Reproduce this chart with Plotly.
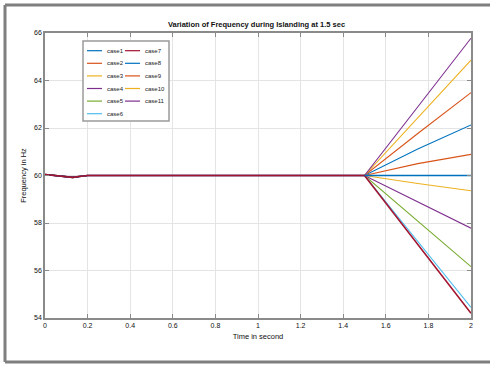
import plotly.graph_objects as go

# Common frequency trace before islanding (s, Hz)
t_pre = [0.0, 0.05, 0.1, 0.13, 0.17, 0.2, 1.5]
f_pre = [60.04, 59.99, 59.95, 59.92, 59.97, 60.0, 60.0]

# Post-islanding samples (s)
t_post = [1.5, 1.75, 2.0]

case_names = ["case1", "case2", "case3", "case4", "case5", "case6",
              "case7", "case8", "case9", "case10", "case11"]
case_post = [
    [60.0, 60.0, 60.0],
    [60.0, 60.5, 60.89],
    [60.0, 59.66, 59.36],
    [60.0, 58.88, 57.78],
    [60.0, 58.07, 56.16],
    [60.0, 57.2, 54.45],
    [60.0, 57.08, 54.2],
    [60.0, 61.12, 62.13],
    [60.0, 61.77, 63.49],
    [60.0, 62.44, 64.86],
    [60.0, 62.9, 65.78],
]

x_ticks = [0, 0.2, 0.4, 0.6, 0.8, 1, 1.2, 1.4, 1.6, 1.8, 2]
x_tick_text = ["0", "0.2", "0.4", "0.6", "0.8", "1", "1.2", "1.4", "1.6", "1.8", "2"]
y_ticks = [54, 56, 58, 60, 62, 64, 66]

colors = ["#0072BD", "#D95319", "#EDB120", "#7E2F8E", "#77AC30", "#4DBEEE",
          "#A2142F", "#0072BD", "#D95319", "#EDB120", "#7E2F8E"]

W, H = 490, 367
L, R, T, B = 45, 471, 33, 318


def px2x(px):
    return (px - L) / (R - L)


def py2y(py):
    return (B - py) / (B - T)


fig = go.Figure()
order = [1, 2, 3, 4, 5, 7, 8, 9, 10, 6, 0]
for i in order:
    fig.add_trace(go.Scatter(
        x=t_pre + t_post[1:], y=f_pre + case_post[i][1:],
        mode="lines", name=case_names[i],
        line=dict(color=colors[i], width=1.6 if i in (0, 6) else 1.1),
        showlegend=False,
    ))
# Pre-islanding segment drawn on top in dark red
fig.add_trace(go.Scatter(
    x=t_pre, y=f_pre, mode="lines", name=case_names[6],
    line=dict(color=colors[6], width=1.6), showlegend=False,
))

shapes = []
annotations = []

# Outer figure frame
frame = dict(type="line", xref="paper", yref="paper",
             line=dict(color="#7f7f7f", width=3))
shapes.append(dict(frame, x0=px2x(5), x1=px2x(490), y0=py2y(5), y1=py2y(5)))
shapes.append(dict(frame, x0=px2x(5), x1=px2x(5), y0=py2y(5), y1=py2y(362)))
shapes.append(dict(frame, x0=px2x(5), x1=px2x(490), y0=py2y(362), y1=py2y(362)))

# Legend box
shapes.append(dict(type="rect", xref="paper", yref="paper",
                   x0=px2x(83), x1=px2x(169), y0=py2y(41), y1=py2y(121),
                   line=dict(color="#9a9a9a", width=1.5), fillcolor="white"))
for k, name in enumerate(case_names):
    col, row = divmod(k, 6)
    ly = 50.7 + 12.6 * row
    lx0 = 87 if col == 0 else 125
    shapes.append(dict(type="line", xref="paper", yref="paper",
                       x0=px2x(lx0), x1=px2x(lx0 + 15), y0=py2y(ly), y1=py2y(ly),
                       line=dict(color=colors[k], width=1.2)))
    annotations.append(dict(xref="paper", yref="paper", x=px2x(lx0 + 18), y=py2y(ly),
                            text=name, showarrow=False, xanchor="left", yanchor="middle",
                            font=dict(size=6, color="#222")))

fig.update_layout(
    width=W, height=H,
    margin=dict(l=L, r=W - R, t=T, b=H - B),
    paper_bgcolor="white", plot_bgcolor="white",
    font=dict(family="Liberation Sans, Arial, sans-serif", size=7, color="#111"),
    title=dict(text="<b>Variation of Frequency during Islanding at 1.5 sec</b>",
               x=(155 + 358) / 2 / W, xanchor="center",
               y=1 - 24 / H, yanchor="middle",
               font=dict(size=7.5, color="#111")),
    shapes=shapes,
    annotations=annotations,
    showlegend=False,
)

fig.update_xaxes(
    range=[0, 2], tickvals=x_ticks, ticktext=x_tick_text,
    showgrid=True, gridcolor="#e4e4e4", gridwidth=1,
    showline=True, linecolor="#8a8a8a", linewidth=1.5, mirror="ticks",
    ticks="inside", ticklen=4, tickcolor="#8a8a8a",
    zeroline=False,
    title=dict(text="Time in second", font=dict(size=7.5), standoff=6),
)
fig.update_yaxes(
    range=[54, 66], tickvals=y_ticks,
    showgrid=True, gridcolor="#e4e4e4", gridwidth=1,
    showline=True, linecolor="#8a8a8a", linewidth=1.5, mirror="ticks",
    ticks="inside", ticklen=4, tickcolor="#8a8a8a",
    zeroline=False,
    title=dict(text="Frequency in Hz", font=dict(size=7.5), standoff=6),
)

fig.write_html("out.html")
